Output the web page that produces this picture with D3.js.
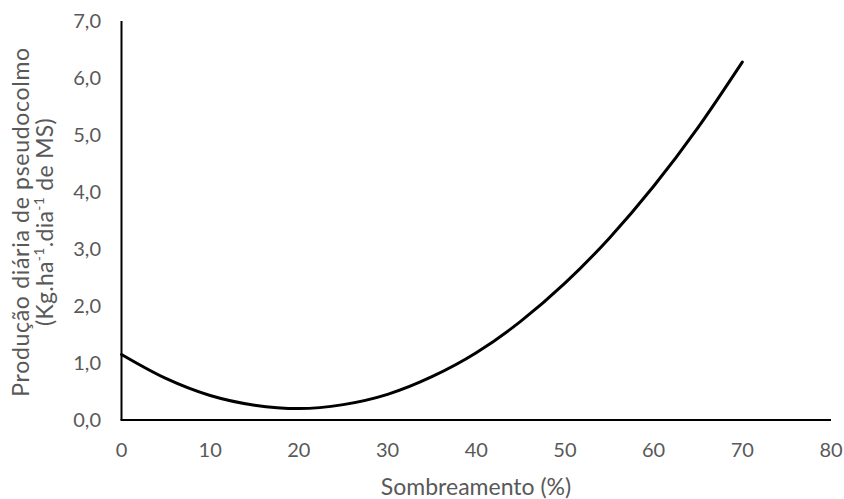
<!DOCTYPE html>
<html>
<head>
<meta charset="utf-8">
<script src="https://cdn.jsdelivr.net/npm/d3@7"></script>
<style>
  body { margin: 0; background: #fff; }
  text { font-family: Lato, "Open Sans", sans-serif; fill: #595959; }
</style>
</head>
<body>
<svg id="chart" width="844" height="499"></svg>
<script>
// shading (%) and daily pseudostem production
const shading = [0, 5, 10, 15, 20, 25, 30, 35, 40, 45, 50, 55, 60, 65, 70];
const production = [1.15, 0.73, 0.43, 0.26, 0.20, 0.27, 0.45, 0.76, 1.18, 1.73, 2.40, 3.19, 4.10, 5.13, 6.28];
const xTicks = [0, 10, 20, 30, 40, 50, 60, 70, 80];
const yTicks = [0, 1, 2, 3, 4, 5, 6, 7];

const svg = d3.select("#chart");

const x = d3.scaleLinear().domain([0, 80]).range([121.5, 831]);
const y = d3.scaleLinear().domain([0, 7]).range([420, 21]);

// axes lines only, no tick marks
svg.append("line")
    .attr("x1", x(0) - 1).attr("x2", x(80))
    .attr("y1", y(0)).attr("y2", y(0))
    .attr("stroke", "#000").attr("stroke-width", 2);

svg.append("line")
    .attr("x1", x(0)).attr("x2", x(0))
    .attr("y1", y(0)).attr("y2", y(7))
    .attr("stroke", "#000").attr("stroke-width", 2);

svg.selectAll(".xtick")
    .data(xTicks)
    .join("text")
    .attr("class", "xtick")
    .attr("x", d => x(d))
    .attr("y", 457)
    .attr("text-anchor", "middle")
    .style("font-size", "20px")
    .text(d => d);

svg.selectAll(".ytick")
    .data(yTicks)
    .join("text")
    .attr("class", "ytick")
    .attr("x", 101)
    .attr("y", d => y(d) + 7)
    .attr("text-anchor", "end")
    .style("font-size", "20px")
    .text(d => d.toFixed(1).replace(".", ","));

// curve
const line = d3.line()
    .x((d, i) => x(shading[i]))
    .y(d => y(d))
    .curve(d3.curveMonotoneX);

svg.append("path")
    .datum(production)
    .attr("d", line)
    .attr("fill", "none")
    .attr("stroke", "#000")
    .attr("stroke-width", 3)
    .attr("stroke-linecap", "round");

// axis titles
svg.append("text")
    .attr("x", 476)
    .attr("y", 495)
    .attr("text-anchor", "middle")
    .style("font-size", "23px")
    .text("Sombreamento (%)");

const yt = svg.append("g")
    .attr("transform", "translate(0,222) rotate(-90)");

yt.append("text")
    .attr("x", 0)
    .attr("y", 29)
    .attr("text-anchor", "middle")
    .style("font-size", "23px")
    .style("letter-spacing", "0.7px")
    .text("Produção diária de pseudocolmo");

const l2 = yt.append("text")
    .attr("x", 0)
    .attr("y", 53)
    .attr("text-anchor", "middle")
    .style("font-size", "23px")
    .style("letter-spacing", "0.3px");
l2.append("tspan").text("(Kg.ha");
l2.append("tspan").attr("dy", -9).style("font-size", "14px").text("-1");
l2.append("tspan").attr("dy", 9).text(".dia");
l2.append("tspan").attr("dy", -9).style("font-size", "14px").text("-1");
l2.append("tspan").attr("dy", 9).text(" de MS)");
</script>
</body>
</html>
